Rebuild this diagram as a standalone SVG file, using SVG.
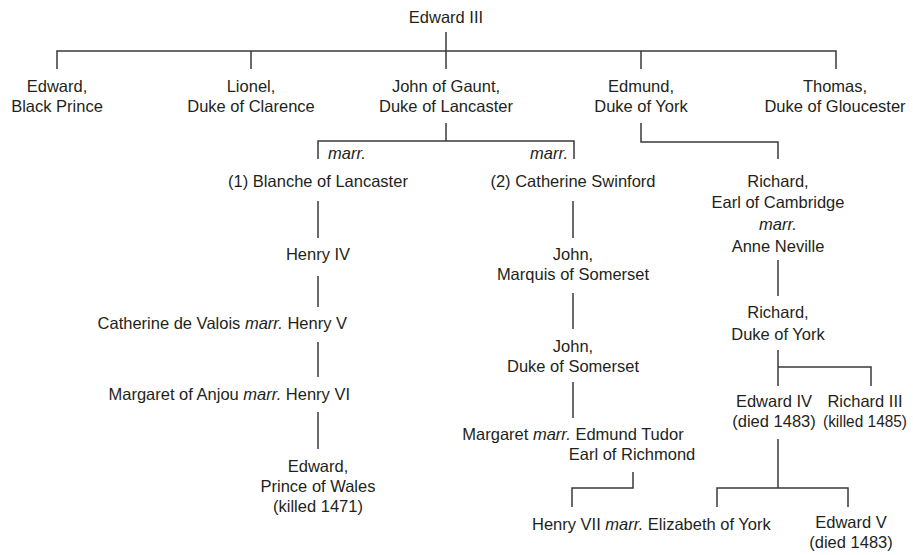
<svg xmlns="http://www.w3.org/2000/svg" width="913" height="555" viewBox="0 0 913 555">
<style>
text{font-family:"Liberation Sans",Arial,sans-serif;font-size:16.5px;fill:#231f20}
.m{text-anchor:middle}
.e{text-anchor:end}
.i{font-style:italic}
#connectors path{fill:none;stroke:#3a3a3a;stroke-width:1.5}
</style>
<rect width="913" height="555" fill="#fff"/>
<g id="connectors">
<path d="M446 32V51M57 69V51H836V69M251 51V69M446 51V69M641 51V69"/>
<path d="M446 123V141M318 159V141H574V159"/>
<path d="M641 123V142H778V159"/>
<path d="M318 201V238M318 276V307M318 342V377M318 412V449"/>
<path d="M573 201V238M573 293V329M573 382V418"/>
<path d="M633 472V488H572V507"/>
<path d="M778 260V296M778 350V386M778 367H871V386"/>
<path d="M778 439V488M717 507V488H848V507"/>
</g>
<g id="edward3"><text class="m" x="446" y="23">Edward III</text></g>
<g id="black-prince"><text class="m" x="57" y="92">Edward,</text><text class="m" x="57" y="112">Black Prince</text></g>
<g id="lionel"><text class="m" x="251" y="92">Lionel,</text><text class="m" x="251" y="112">Duke of Clarence</text></g>
<g id="gaunt"><text class="m" x="446" y="92">John of Gaunt,</text><text class="m" x="446" y="112">Duke of Lancaster</text></g>
<g id="edmund"><text class="m" x="641" y="92">Edmund,</text><text class="m" x="641" y="112">Duke of York</text></g>
<g id="thomas"><text class="m" x="835" y="92">Thomas,</text><text class="m" x="835" y="112">Duke of Gloucester</text></g>
<g id="marr1"><text class="i" x="328" y="159">marr.</text></g>
<g id="marr2"><text class="i e" x="568" y="159">marr.</text></g>
<g id="blanche"><text class="m" x="318" y="187">(1) Blanche of Lancaster</text></g>
<g id="swinford"><text class="m" x="573" y="187">(2) Catherine Swinford</text></g>
<g id="cambridge"><text class="m" x="778" y="187">Richard,</text><text class="m" x="778" y="208">Earl of Cambridge</text><text class="m i" x="778" y="230">marr.</text><text class="m" x="778" y="252">Anne Neville</text></g>
<g id="henry4"><text class="m" x="318" y="260">Henry IV</text></g>
<g id="john-marquis"><text class="m" x="573" y="260">John,</text><text class="m" x="573" y="280">Marquis of Somerset</text></g>
<g id="richard-york"><text class="m" x="778" y="318">Richard,</text><text class="m" x="778" y="340">Duke of York</text></g>
<g id="henry5"><text class="e" x="347" y="329">Catherine de Valois <tspan class="i">marr.</tspan> Henry V</text></g>
<g id="john-duke"><text class="m" x="573" y="352">John,</text><text class="m" x="573" y="372">Duke of Somerset</text></g>
<g id="henry6"><text class="e" x="350" y="400">Margaret of Anjou <tspan class="i">marr.</tspan> Henry VI</text></g>
<g id="edward4"><text class="m" x="774" y="407">Edward IV</text><text class="m" x="774" y="427">(died 1483)</text></g>
<g id="richard3"><text class="m" x="865" y="407">Richard III</text><text class="m" x="865" y="427" textLength="84" lengthAdjust="spacingAndGlyphs">(killed 1485)</text></g>
<g id="margaret"><text class="m" x="573" y="440">Margaret <tspan class="i">marr.</tspan> Edmund Tudor</text><text class="m" x="632" y="460">Earl of Richmond</text></g>
<g id="prince-wales"><text class="m" x="318" y="472">Edward,</text><text class="m" x="318" y="492">Prince of Wales</text><text class="m" x="318" y="512">(killed 1471)</text></g>
<g id="henry7"><text x="532" y="530">Henry VII <tspan class="i">marr.</tspan> Elizabeth of York</text></g>
<g id="edward5"><text class="m" x="851" y="528">Edward V</text><text class="m" x="851" y="548">(died 1483)</text></g>
</svg>
